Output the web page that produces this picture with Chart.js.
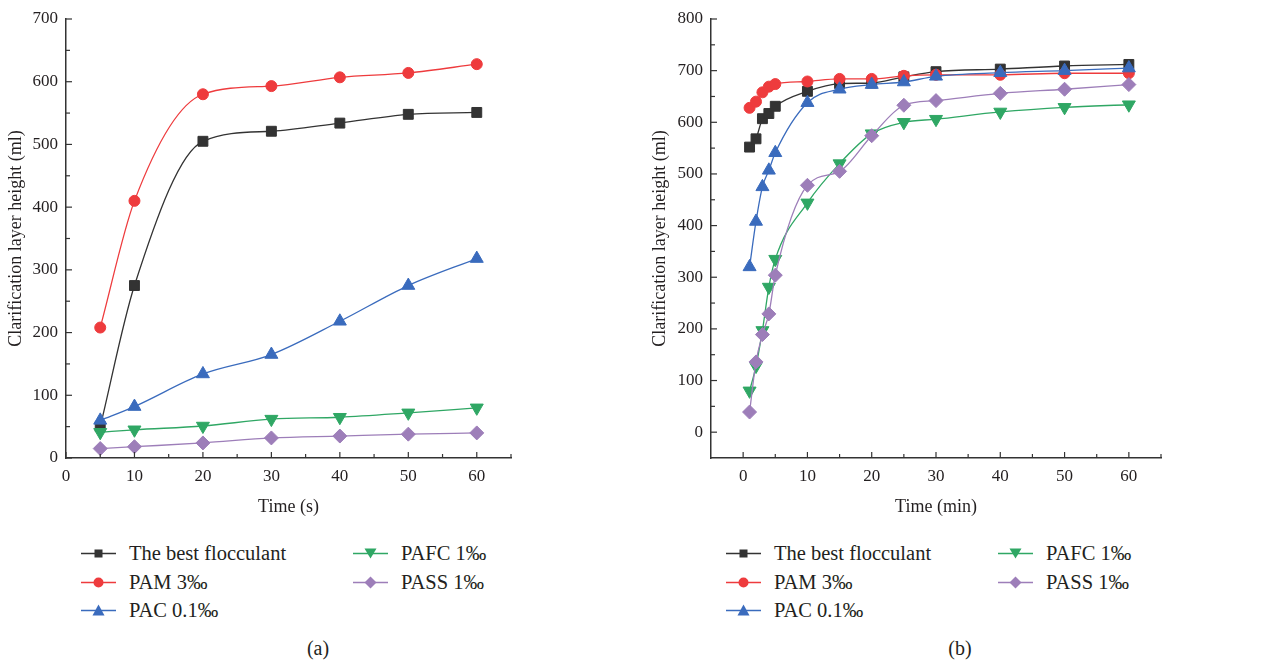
<!DOCTYPE html>
<html>
<head>
<meta charset="utf-8">
<script src="https://cdn.jsdelivr.net/npm/chart.js@4/dist/chart.umd.min.js"></script>
<style>
  body { margin: 0; background: #fff; width: 1272px; height: 663px; overflow: hidden; position: relative;
         font-family: 'Liberation Serif', 'Times New Roman', serif; color: #231f20; }
  .panel { position: absolute; top: 0; height: 520px; }
  .lg { position: absolute; height: 22px; display: flex; align-items: center; font-size: 20.5px; white-space: nowrap; }
  .lg svg { margin-right: 13px; }
  .cap { position: absolute; top: 637px; font-size: 20px; transform: translateX(-50%); }
</style>
</head>
<body>
<div class="panel" style="left:0;width:640px"><canvas id="chartA"></canvas></div>
<div class="panel" style="left:640px;width:632px"><canvas id="chartB"></canvas></div>
<div id="legendA"></div>
<div id="legendB"></div>
<div class="cap" style="left:318px">(a)</div>
<div class="cap" style="left:960px">(b)</div>

<script>
// Datos: altura de la capa clarificada (ml)

// Panel (a) — tiempo en segundos
const X_A = [5, 10, 20, 30, 40, 50, 60];
const A_BEST = [50, 275, 505, 521, 534, 548, 551];
const A_PAM  = [208, 410, 580, 593, 607, 614, 628];
const A_PAC  = [60, 82, 134, 165, 218, 275, 318];
const A_PAFC = [41, 45, 51, 62, 65, 72, 80];
const A_PASS = [15, 18, 24, 32, 35, 38, 40];

// Panel (b) — tiempo en minutos
const X_B = [1, 2, 3, 4, 5, 10, 15, 20, 25, 30, 40, 50, 60];
const B_BEST = [552, 568, 607, 617, 631, 660, 675, 676, 688, 698, 703, 709, 712];
const B_PAM  = [628, 640, 658, 669, 674, 679, 684, 684, 690, 692, 692, 695, 695];
const B_PAC  = [320, 408, 475, 507, 541, 638, 664, 673, 678, 689, 696, 700, 705];
const B_PAFC = [80, 128, 197, 281, 335, 444, 520, 578, 600, 606, 620, 629, 634];
const B_PASS = [39, 136, 189, 229, 304, 478, 505, 574, 633, 642, 656, 664, 673];

// Marcas de los ejes
const X_TICKS_A = [0, 10, 20, 30, 40, 50, 60];
const X_MINOR_A = [5, 15, 25, 35, 45, 55, 65];
const Y_TICKS_A = [0, 100, 200, 300, 400, 500, 600, 700];
const Y_MINOR_A = [50, 150, 250, 350, 450, 550, 650];

const X_TICKS_B = [0, 10, 20, 30, 40, 50, 60];
const X_MINOR_B = [5, 15, 25, 35, 45, 55, 65];
const Y_TICKS_B = [0, 100, 200, 300, 400, 500, 600, 700, 800];
const Y_MINOR_B = [50, 150, 250, 350, 450, 550, 650, 750];

const NAMES = ['The best flocculant', 'PAM 3‰', 'PAC 0.1‰', 'PAFC 1‰', 'PASS 1‰'];
const COLORS = ['#333333', '#ee3b3d', '#3a6bbd', '#2fa764', '#9d7eb9'];
const STYLES = ['rect', 'circle', 'triangle', 'triangle', 'rectRot'];
const ROTS   = [0, 0, 0, 180, 0];
const RADII  = [7, 5.5, 7.5, 7.5, 7];
const ORDERS = [5, 4, 3, 2, 1];

const AXIS = '#333333';
const FONT = "'Liberation Serif', 'Times New Roman', serif";

function makeDatasets(xs, series) {
  return series.map((ys, i) => ({
    label: NAMES[i],
    data: xs.map((x, k) => ({ x, y: ys[k] })),
    borderColor: COLORS[i],
    backgroundColor: COLORS[i],
    borderWidth: 1.3,
    pointStyle: STYLES[i],
    rotation: ROTS[i],
    pointRadius: RADII[i],
    pointBorderWidth: 1,
    cubicInterpolationMode: 'monotone',
    order: ORDERS[i]
  }));
}

// ticks hacia adentro, como en Origin
const innerTicks = {
  id: 'innerTicks',
  afterDraw(chart, args, o) {
    const { ctx, chartArea: a, scales: { x, y } } = chart;
    ctx.save();
    ctx.strokeStyle = AXIS;
    ctx.lineWidth = 1.2;
    const seg = (x1, y1, x2, y2) => { ctx.beginPath(); ctx.moveTo(x1, y1); ctx.lineTo(x2, y2); ctx.stroke(); };
    o.xMajor.forEach(v => { const p = x.getPixelForValue(v); seg(p, a.bottom, p, a.bottom - 6); });
    o.xMinor.forEach(v => { const p = x.getPixelForValue(v); seg(p, a.bottom, p, a.bottom - 4); });
    o.yMajor.forEach(v => { const p = y.getPixelForValue(v); seg(a.left, p, a.left + 6, p); });
    o.yMinor.forEach(v => { const p = y.getPixelForValue(v); seg(a.left, p, a.left + 4, p); });
    ctx.restore();
  }
};

function makeChart(id, cfg) {
  return new Chart(document.getElementById(id), {
    type: 'line',
    data: { datasets: makeDatasets(cfg.xs, cfg.series) },
    options: {
      responsive: true,
      maintainAspectRatio: false,
      animation: false,
      layout: { padding: { top: 19, right: cfg.padRight, left: 0, bottom: 0 } },
      plugins: {
        legend: { display: false },
        tooltip: { enabled: false },
        innerTicks: { xMajor: cfg.xTicks, xMinor: cfg.xMinor, yMajor: cfg.yTicks, yMinor: cfg.yMinor }
      },
      scales: {
        x: {
          type: 'linear',
          min: cfg.xMin, max: 65,
          grid: { display: false, drawTicks: false },
          border: { display: true, color: AXIS, width: 1.5 },
          afterBuildTicks: s => { s.ticks = cfg.xTicks.map(v => ({ value: v })); },
          afterFit: s => { s.height = 62; },
          ticks: { color: '#231f20', padding: 8, font: { family: FONT, size: 17 } },
          title: { display: true, text: cfg.xTitle, color: '#231f20', padding: { top: 0, bottom: 2 },
                   font: { family: FONT, size: 18, lineHeight: 1.2 } }
        },
        y: {
          min: cfg.yMin, max: cfg.yMax,
          grid: { display: false, drawTicks: false },
          border: { display: true, color: AXIS, width: 1.5 },
          afterBuildTicks: s => { s.ticks = cfg.yTicks.map(v => ({ value: v })); },
          afterFit: s => { s.width = cfg.yWidth; },
          ticks: { color: '#231f20', padding: 8, font: { family: FONT, size: 17 } },
          title: { display: true, text: 'Clarification layer height (ml)', color: '#231f20',
                   padding: { top: cfg.yTitlePad, bottom: 0 }, font: { family: FONT, size: 18, lineHeight: 1.2 } }
        }
      }
    },
    plugins: [innerTicks]
  });
}

makeChart('chartA', {
  xs: X_A, series: [A_BEST, A_PAM, A_PAC, A_PAFC, A_PASS],
  xMin: 0, yMin: 0, yMax: 700, yWidth: 66, yTitlePad: 5, padRight: 129,
  xTicks: X_TICKS_A, xMinor: X_MINOR_A, yTicks: Y_TICKS_A, yMinor: Y_MINOR_A,
  xTitle: 'Time (s)'
});

makeChart('chartB', {
  xs: X_B, series: [B_BEST, B_PAM, B_PAC, B_PAFC, B_PASS],
  xMin: -5, yMin: -50, yMax: 800, yWidth: 71, yTitlePad: 9, padRight: 111,
  xTicks: X_TICKS_B, xMinor: X_MINOR_B, yTicks: Y_TICKS_B, yMinor: Y_MINOR_B,
  xTitle: 'Time (min)'
});

// Leyenda en HTML: dos columnas, tres filas
function symbol(i) {
  const c = COLORS[i];
  let shape = '';
  if (STYLES[i] === 'rect') shape = `<rect x="13.5" y="4.5" width="8" height="8" fill="${c}"/>`;
  else if (STYLES[i] === 'circle') shape = `<circle cx="17.5" cy="8.5" r="5" fill="${c}"/>`;
  else if (STYLES[i] === 'rectRot') shape = `<polygon points="17.5,2.5 23.5,8.5 17.5,14.5 11.5,8.5" fill="${c}"/>`;
  else if (ROTS[i] === 180) shape = `<polygon points="11.5,3.5 23.5,3.5 17.5,13.5" fill="${c}"/>`;
  else shape = `<polygon points="17.5,2.5 23.5,13.5 11.5,13.5" fill="${c}"/>`;
  return `<svg width="35" height="17" viewBox="0 0 35 17"><line x1="0" y1="8.5" x2="35" y2="8.5" stroke="${c}" stroke-width="1.3"/>${shape}</svg>`;
}

function buildLegend(id, col1, col2) {
  const rows = [553, 582, 610];
  const slots = [[col1, rows[0]], [col1, rows[1]], [col1, rows[2]], [col2, rows[0]], [col2, rows[1]]];
  document.getElementById(id).innerHTML = NAMES.map((n, i) =>
    `<div class="lg" style="left:${slots[i][0]}px;top:${slots[i][1] - 11}px">${symbol(i)}<span>${n}</span></div>`
  ).join('');
}

buildLegend('legendA', 81, 353);
buildLegend('legendB', 726, 998);
</script>
</body>
</html>
